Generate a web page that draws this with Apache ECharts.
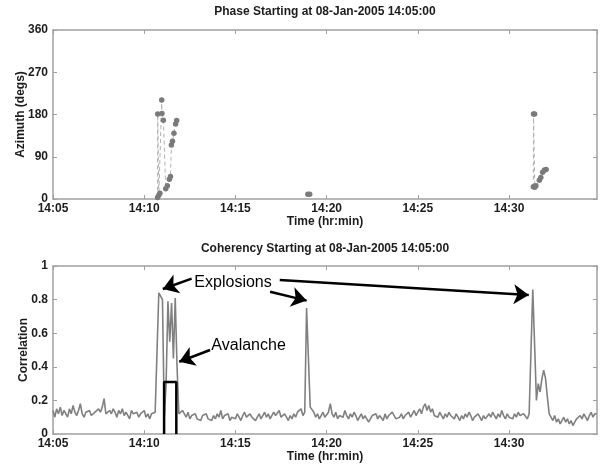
<!DOCTYPE html>
<html>
<head>
<meta charset="utf-8">
<script src="https://cdn.jsdelivr.net/npm/echarts@6/dist/echarts.min.js"></script>
<style>
html,body{margin:0;padding:0;background:#fff;}
#chart{width:601px;height:466px;}
</style>
</head>
<body>
<div id="chart"></div>
<script>
// ---- data (time in minutes after 14:05:00) ----
const xTickMinutes = [0, 5, 10, 15, 20, 25];
const xTickLabels = ['14:05', '14:10', '14:15', '14:20', '14:25', '14:30'];
const xMaxMinutes = 29.82;

const phaseTitle = 'Phase Starting at 08-Jan-2005 14:05:00';
const coherTitle = 'Coherency Starting at 08-Jan-2005 14:05:00';

// azimuth clusters (minutes, degrees)
const phaseTime1 = [5.73, 5.74, 5.80, 5.86, 5.96, 5.97, 6.05, 6.18, 6.27, 6.38, 6.44, 6.49, 6.55, 6.63, 6.72, 6.78];
const phaseAz1   = [3, 181, 8, 12, 211, 182, 168, 22, 28, 42, 48, 115, 123, 140, 160, 167];
const phaseTime2 = [13.97, 14.07];
const phaseAz2   = [10, 10];
const phaseTime3 = [26.33, 26.34, 26.40, 26.41, 26.47, 26.66, 26.74, 26.84, 26.94, 27.03];
const phaseAz3   = [26, 181, 181, 25, 28, 40, 46, 57, 62, 63];

// coherency, one sample every 0.1 minute starting at 14:05:00
const corrStep = 0.1;
const corrValues = [
  0.14,0.10,0.15,0.12,0.16,0.11,0.14,0.13,0.10,0.15,
  0.12,0.17,0.13,0.11,0.14,0.18,0.12,0.10,0.13,0.12,
  0.14,0.11,0.10,0.13,0.12,0.15,0.13,0.16,0.21,0.12,
  0.11,0.14,0.12,0.15,0.13,0.10,0.14,0.12,0.15,0.11,
  0.13,0.12,0.09,0.14,0.12,0.11,0.13,0.10,0.12,0.11,
  0.14,0.10,0.12,0.09,0.12,0.11,0.13,0.13,0.84,0.84,
  0.80,0.10,0.30,0.79,0.55,0.78,0.45,0.81,0.40,0.12,
  0.11,0.14,0.12,0.10,0.13,0.09,0.11,0.10,0.12,0.09,
  0.10,0.08,0.11,0.10,0.12,0.09,0.10,0.08,0.11,0.09,
  0.12,0.10,0.14,0.09,0.11,0.10,0.12,0.08,0.10,0.11,
  0.09,0.12,0.10,0.08,0.11,0.13,0.10,0.09,0.12,0.10,
  0.11,0.08,0.10,0.12,0.09,0.11,0.13,0.10,0.12,0.09,
  0.10,0.13,0.11,0.12,0.14,0.10,0.09,0.12,0.10,0.08,
  0.11,0.09,0.12,0.10,0.13,0.12,0.15,0.11,0.13,0.75,
  0.75,0.16,0.17,0.13,0.10,0.12,0.09,0.11,0.13,0.10,
  0.11,0.13,0.18,0.12,0.10,0.13,0.09,0.11,0.12,0.10,
  0.14,0.11,0.09,0.12,0.10,0.13,0.11,0.08,0.10,0.12,
  0.09,0.11,0.10,0.07,0.09,0.11,0.10,0.12,0.09,0.11,
  0.10,0.08,0.12,0.09,0.11,0.10,0.13,0.11,0.09,0.10,
  0.10,0.12,0.09,0.11,0.10,0.13,0.10,0.12,0.14,0.11,
  0.13,0.15,0.12,0.16,0.18,0.14,0.17,0.13,0.15,0.11,
  0.12,0.10,0.13,0.11,0.09,0.12,0.10,0.13,0.11,0.10,
  0.09,0.12,0.10,0.08,0.11,0.09,0.12,0.10,0.13,0.11,
  0.08,0.10,0.09,0.12,0.10,0.08,0.11,0.09,0.10,0.12,
  0.10,0.13,0.11,0.09,0.12,0.10,0.14,0.11,0.09,0.12,
  0.10,0.11,0.09,0.12,0.10,0.13,0.11,0.10,0.12,0.11,
  0.09,0.12,0.13,0.86,0.86,0.20,0.30,0.25,0.33,0.38,
  0.33,0.22,0.12,0.10,0.08,0.11,0.07,0.09,0.06,0.08,
  0.10,0.07,0.09,0.06,0.08,0.05,0.07,0.09,0.08,0.11,
  0.09,0.12,0.10,0.08,0.11,0.13,0.10,0.12,0.12
];

// avalanche detection box
const avalancheTime  = [6.09, 6.09, 6.76, 6.76];
const avalancheValue = [0, 0.31, 0.31, 0];

// annotations (data coordinates of bottom panel)
const explosionLabel = 'Explosions';
const explosionLabelPos = [9.87, 0.90];
const avalancheLabel = 'Avalanche';
const avalancheLabelPos = [10.72, 0.525];
const arrowTails = [[7.60, 0.925], [11.90, 0.847], [12.43, 0.917], [8.61, 0.50]];
const arrowHeads = [[6.02, 0.863], [13.90, 0.794], [26.08, 0.827], [6.92, 0.43]];

// ---- chart ----
const FONT = '"Liberation Sans", Arial, sans-serif';
const AX = '#a0a0a0';
const TXT = '#1c1c1c';

function zip(a, b) { return a.map((v, i) => [v, b[i]]); }
const corrData = corrValues.map((v, i) => [+(i * corrStep).toFixed(2), v]);

function xLabel(v) {
  const k = xTickMinutes.findIndex(t => Math.abs(t - v) < 1e-6);
  return k >= 0 ? xTickLabels[k] : '';
}

function mainX(gridIndex) {
  return {
    type: 'value', gridIndex, min: 0, max: xMaxMinutes, interval: 5,
    position: 'bottom',
    name: 'Time (hr:min)', nameLocation: 'middle', nameGap: 17, nameMoveOverlap: false,
    nameTextStyle: { fontFamily: FONT, fontWeight: 'bold', fontSize: 12, color: TXT },
    axisLine: { show: true, onZero: false, lineStyle: { color: AX, width: 1.5 } },
    axisTick: { show: true, inside: true, length: 4, lineStyle: { color: AX } },
    axisLabel: { formatter: xLabel, showMaxLabel: false, margin: 4, fontFamily: FONT, fontWeight: 'bold', fontSize: 12, color: TXT },
    splitLine: { show: false }
  };
}
function mirrorX(gridIndex) {
  return {
    type: 'value', gridIndex, min: 0, max: xMaxMinutes, interval: 5, position: 'top',
    axisLine: { show: true, onZero: false, lineStyle: { color: AX, width: 1.5 } },
    axisTick: { show: true, inside: true, length: 4, lineStyle: { color: AX } },
    axisLabel: { show: false }, splitLine: { show: false }
  };
}
function mainY(gridIndex, max, interval, name, fmt, gap) {
  return {
    type: 'value', gridIndex, min: 0, max, interval, position: 'left',
    name, nameLocation: 'middle', nameGap: gap, nameMoveOverlap: false,
    nameTextStyle: { fontFamily: FONT, fontWeight: 'bold', fontSize: 12, color: TXT },
    axisLine: { show: true, onZero: false, lineStyle: { color: AX, width: 1.5 } },
    axisTick: { show: true, inside: true, length: 4, lineStyle: { color: AX } },
    axisLabel: { formatter: fmt, margin: 5, fontFamily: FONT, fontWeight: 'bold', fontSize: 12, color: TXT },
    splitLine: { show: false }
  };
}
function mirrorY(gridIndex, max, interval) {
  return {
    type: 'value', gridIndex, min: 0, max, interval, position: 'right',
    axisLine: { show: true, onZero: false, lineStyle: { color: AX, width: 1.5 } },
    axisTick: { show: true, inside: true, length: 4, lineStyle: { color: AX } },
    axisLabel: { show: false }, splitLine: { show: false }
  };
}

function phaseSeries(t, v) {
  return {
    type: 'line', xAxisIndex: 0, yAxisIndex: 0, data: zip(t, v),
    symbol: 'circle', symbolSize: 5.5,
    itemStyle: { color: '#7a7a7a' },
    lineStyle: { color: '#b0b0b0', width: 1, type: [4, 3] },
    silent: true
  };
}

const chart = echarts.init(document.getElementById('chart'), null, { renderer: 'canvas' });
chart.setOption({
  animation: false,
  backgroundColor: '#ffffff',
  grid: [
    { left: 53, top: 30, width: 544, height: 169 },
    { left: 53, top: 266, width: 544, height: 168 }
  ],
  xAxis: [mainX(0), mainX(1), mirrorX(0), mirrorX(1)],
  yAxis: [
    mainY(0, 360, 90, 'Azimuth (degs)', v => String(v), 26),
    mainY(1, 1, 0.2, 'Correlation', v => (v === 0 ? '0' : v === 1 ? '1' : v.toFixed(1)), 23),
    mirrorY(0, 360, 90),
    mirrorY(1, 1, 0.2)
  ],
  graphic: [
    { type: 'text', x: 325, y: 12, style: { text: phaseTitle, fill: TXT, font: 'bold 12px ' + FONT, align: 'center', verticalAlign: 'middle' } },
    { type: 'text', x: 325, y: 249, style: { text: coherTitle, fill: TXT, font: 'bold 12px ' + FONT, align: 'center', verticalAlign: 'middle' } }
  ],
  series: [
    phaseSeries(phaseTime1, phaseAz1),
    phaseSeries(phaseTime2, phaseAz2),
    phaseSeries(phaseTime3, phaseAz3),
    {
      type: 'line', xAxisIndex: 1, yAxisIndex: 1, data: corrData,
      showSymbol: false, symbol: 'none',
      lineStyle: { color: '#808080', width: 1.6 },
      silent: true,
      markLine: {
        silent: true, symbol: ['none', 'arrow'], symbolSize: 15,
        lineStyle: { color: '#000', width: 2.5, type: 'solid' },
        label: { show: false },
        data: arrowTails.map((t, i) => [{ coord: t }, { coord: arrowHeads[i] }])
      },
      markPoint: {
        silent: true, symbol: 'circle', symbolSize: 0,
        label: { show: true, position: 'inside', fontFamily: FONT, fontSize: 16, color: '#000' },
        data: [
          { coord: explosionLabelPos, label: { formatter: explosionLabel } },
          { coord: avalancheLabelPos, label: { formatter: avalancheLabel } }
        ]
      }
    },
    {
      type: 'line', xAxisIndex: 1, yAxisIndex: 1, data: zip(avalancheTime, avalancheValue),
      symbol: 'none', lineStyle: { color: '#000', width: 2.5 }, silent: true
    }
  ]
});
</script>
</body>
</html>
